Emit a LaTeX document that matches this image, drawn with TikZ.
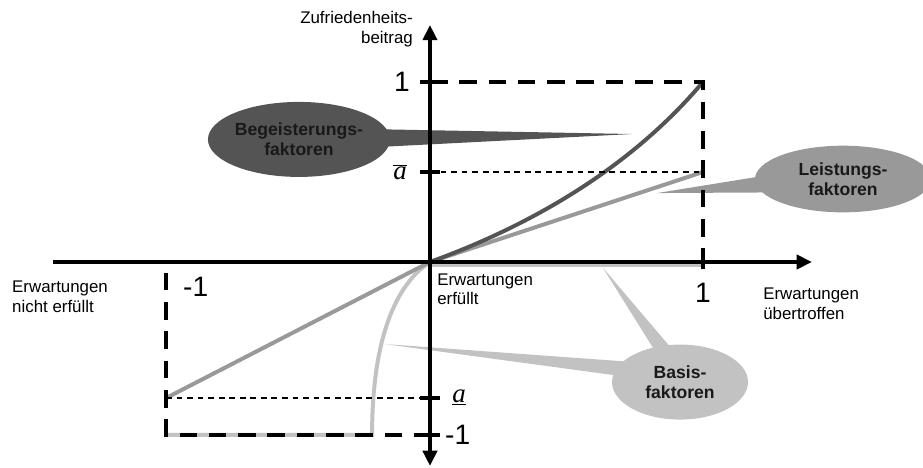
\documentclass[tikz,border=0pt]{standalone}
\usepackage{fontspec}
\setmainfont{Liberation Sans}
\newfontfamily\serifit{Liberation Serif}
\usetikzlibrary{arrows.meta,calc,shapes.geometric}
\definecolor{begcol}{gray}{0.33}
\definecolor{leicol}{gray}{0.6}
\definecolor{bascol}{gray}{0.76}
\begin{document}
\begin{tikzpicture}[>={Triangle[length=13pt,width=12pt]},x=8.19cm,y=5.4cm,
	txt/.style={font=\fontsize{14.4}{16.5}\selectfont,align=left,inner sep=0pt},
	bignum/.style={font=\fontsize{24}{26}\selectfont,inner sep=0pt},
	letter/.style={font=\fontsize{23}{26}\selectfont,inner sep=0pt},
	callout/.style={ellipse,inner sep=0pt,align=center,text=black!90,font=\fontsize{15}{17}\selectfont\bfseries},
	boxline/.style={line width=4pt,dash pattern=on 15pt off 10pt},
	helpline/.style={line width=1.2pt,dash pattern=on 5pt off 4pt},
	axtick/.style={line width=4pt},
	curve/.style={line width=3.4pt}]
	\useasboundingbox (-1.575,-1.1444) rectangle (1.806,1.4556);
	\coordinate (O) at (0,0);
	% Sprechblasen
	\coordinate (begc) at (-0.480,0.681);
	\coordinate (leic) at (1.513,0.461);
	\coordinate (basc) at (0.916,-0.667);
	\coordinate (begtip) at (0.740,0.711);
	\coordinate (leitip) at (0.832,0.383);
	\coordinate (bastip) at (-0.165,-0.456);
	\coordinate (bastop) at (0.634,-0.033);
	\fill[begcol] ($(begc)+(0,0.35cm)$) -- (begtip) -- ($(begc)+(0,-0.35cm)$) -- cycle;
	\fill[leicol] ($(leic)+(0,0.48cm)$) -- (leitip) -- ($(leic)+(0,-0.39cm)$) -- cycle;
	\fill[bascol] ($(basc)+(0,0.5cm)$) -- (bastip) -- ($(basc)+(0,-0.06cm)$) -- cycle;
	\fill[bascol] ($(basc)+(-0.17cm,0)$) -- (bastop) -- ($(basc)+(0.6cm,0)$) -- cycle;
	\node[callout,fill=begcol,minimum width=5.46cm,minimum height=2.25cm] (beg) at (begc) {Begeisterungs-\\faktoren};
	\node[callout,fill=leicol,minimum width=5.28cm,minimum height=2.0cm] (lei) at (leic) {Leistungs-\\faktoren};
	\node[callout,fill=bascol,minimum width=4.08cm,minimum height=2.25cm] (bas) at (basc) {Basis-\\faktoren};
	% Kurven
	\draw[curve,bascol] (-0.967,-0.961) -- (-0.212,-0.961) .. controls (-0.212,-0.433) and (-0.128,-0.128) .. (O);
	\draw[curve,bascol] (0,-0.017) -- (1,-0.017);
	\draw[curve,leicol] (-0.967,-0.756) -- (O) -- (1,0.5);
	\draw[curve,begcol] (O) .. controls (0.4,0.22) and (0.75,0.55) .. (1,1);
	% Hilfslinien
	\draw[helpline] (0,0.5) -- (1,0.5);
	\draw[helpline] (-0.967,-0.756) -- (0,-0.756);
	\draw[boxline] (0,1) -- (1,1) -- (1,0);
	\draw[boxline] (-0.967,-0.06) -- (-0.967,-0.961) -- (0,-0.961);
	% Achsen
	\draw[line width=3.4pt,->] (-1.381,0) -- (1.399,0);
	\draw[line width=3.4pt,<->] (0,-1.133) -- (0,1.317);
	\foreach \yy in {1,0.5,-0.756,-0.961}
		\draw[axtick] (-0.037,\yy) -- (0.037,\yy);
	\draw[axtick] (1,-0.039) -- (1,0.039);
	% Beschriftungen
	\node[txt,align=right,anchor=east] (ylab) at (-0.062,1.294) {Zufriedenheits-\\beitrag};
	\node[txt,anchor=west] (mid) at (0.026,-0.15) {Erwartungen\\erfüllt};
	\node[txt,anchor=west] (right) at (1.22,-0.233) {Erwartungen\\übertroffen};
	\node[txt,anchor=west] (left) at (-1.531,-0.194) {Erwartungen\\nicht erfüllt};
	\node[bignum] (xone) at (1,-0.172) {1};
	\node[bignum,anchor=west] (xmone) at (-0.905,-0.139) {-1};
	\node[bignum,anchor=east] (yone) at (-0.073,1) {1};
	\node[bignum,anchor=west] (ymone) at (0.055,-0.961) {-1};
	\node[letter,anchor=base east] (abar) at (-0.084,0.456) {$\overline{\mbox{\serifit\itshape a}}$};
	\node[letter,anchor=base west] (aunder) at (0.081,-0.778) {$\underline{\mbox{\serifit\itshape a}}$};
\end{tikzpicture}
\end{document}
